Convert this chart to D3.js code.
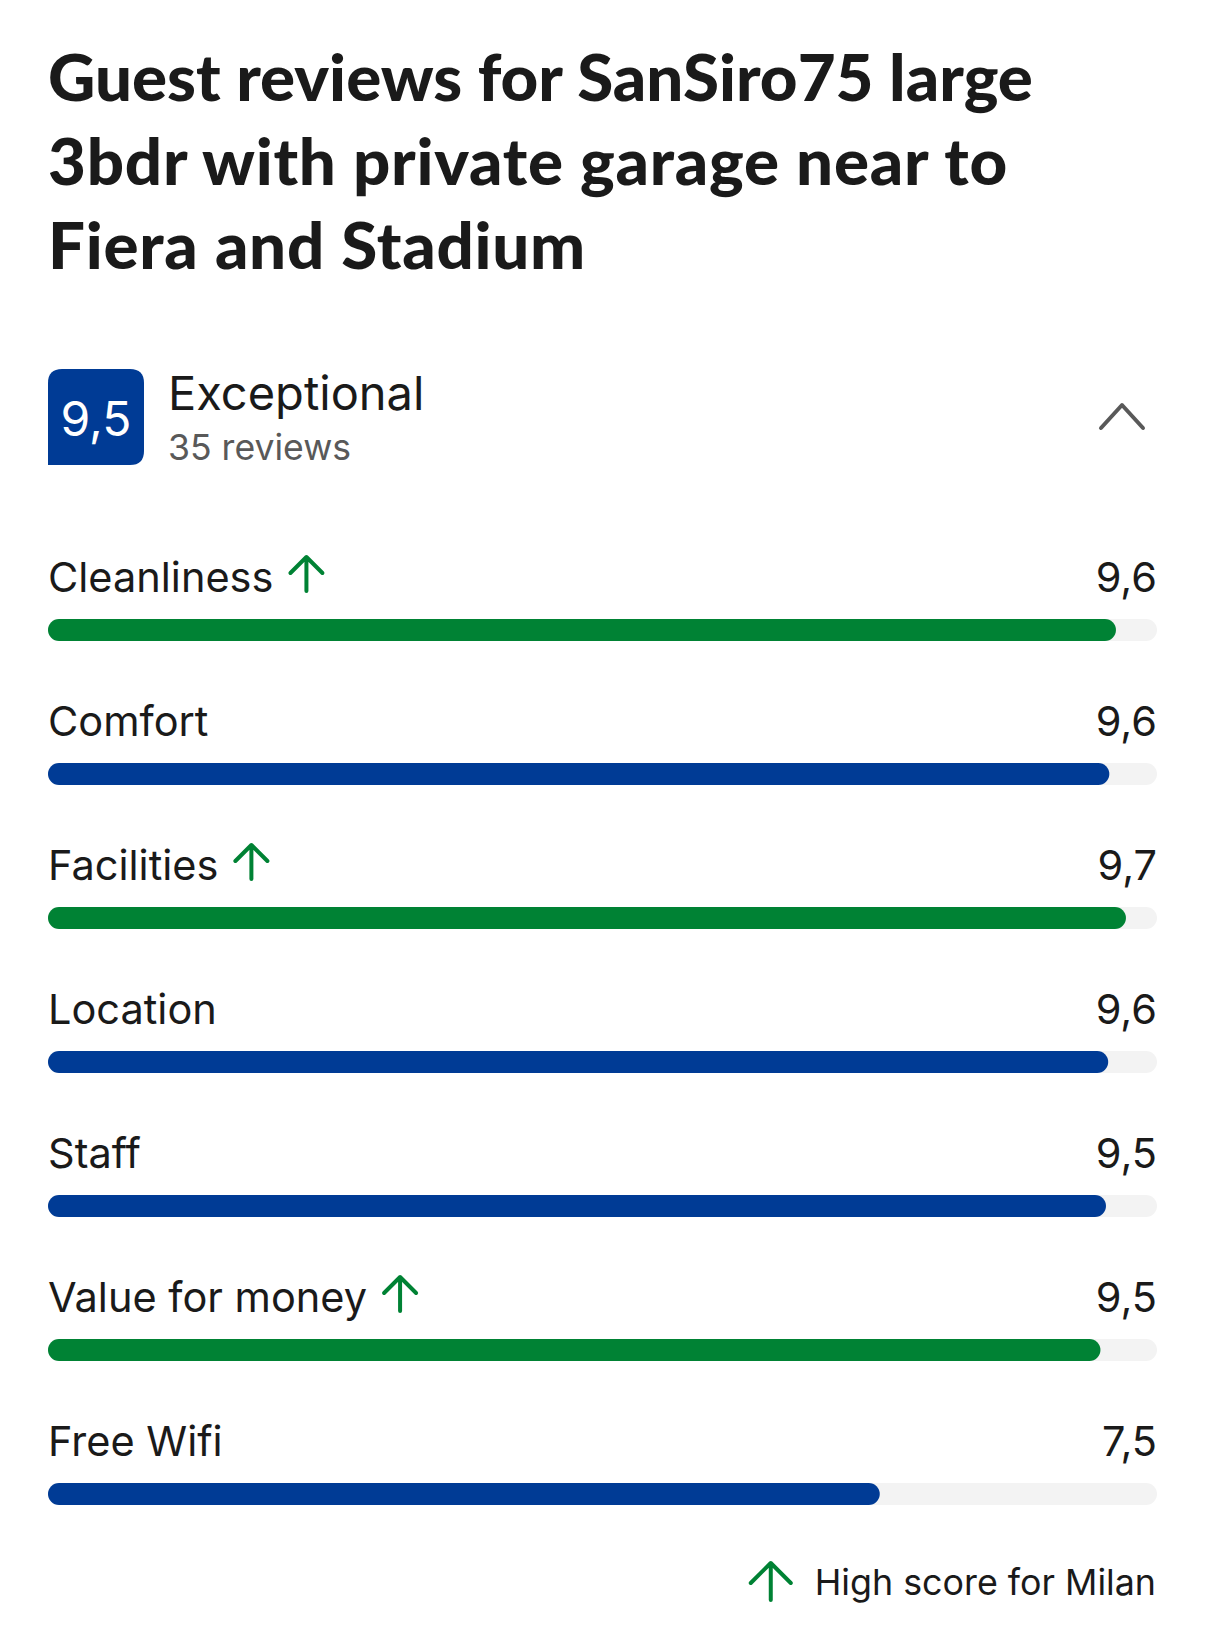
<!DOCTYPE html>
<html>
<head>
<meta charset="utf-8">
<script src="https://cdn.jsdelivr.net/npm/d3@7"></script>
<style>
  body { margin: 0; background: #fff; }
  text { font-family: Inter, "Noto Sans", sans-serif; }
</style>
</head>
<body>
<div id="chart"></div>
<script>
// data
const titleLines = [
    "Guest reviews for SanSiro75 large",
    "3bdr with private garage near to",
    "Fiera and Stadium",
]
const overallScore = 9.5
const overallLabel = "Exceptional"
const reviewCount = 35

const categories = ["Cleanliness", "Comfort", "Facilities", "Location", "Staff", "Value for money", "Free Wifi"]
const scores = [9.63, 9.57, 9.72, 9.56, 9.54, 9.49, 7.5]
const highScore = [true, false, true, false, false, true, false]
const legendText = "High score for Milan"

const width = 1206, height = 1627
const green = "#008234", blue = "#003b95", ink = "#1a1a1a"

var fmt = v => v.toFixed(1).replace(".", ",")

var svg = d3.select("#chart").append("svg")
    .attr("width", width)
    .attr("height", height)

// title
var title = svg.append("g")
title.selectAll("text")
    .data(titleLines)
    .enter().append("text")
    .attr("x", 48)
    .attr("y", (d, i) => 101 + i * 84)
    .style("font-family", "Lato, sans-serif")
    .style("font-weight", 900)
    .style("font-size", "60px")
    .style("letter-spacing", (d, i) => i == 0 ? "0px" : "0.75px")
    .style("fill", ink)
    .text(d => d)

// fit the first title line to the width in the picture
var w0 = title.select("text").node().getComputedTextLength()
title.selectAll("text").style("font-size", (60 * 985 / w0) + "px")

// score badge
var bx = 48, by = 369, bs = 96, r = 14
svg.append("path")
    .attr("d", `M${bx},${by + r} Q${bx},${by} ${bx + r},${by} L${bx + bs - r},${by} Q${bx + bs},${by} ${bx + bs},${by + r}
        L${bx + bs},${by + bs - r} Q${bx + bs},${by + bs} ${bx + bs - r},${by + bs} L${bx},${by + bs} Z`)
    .style("fill", blue)
svg.append("text")
    .attr("x", bx + bs / 2)
    .attr("y", 436)
    .attr("text-anchor", "middle")
    .style("font-size", "48px")
    .style("fill", "#fff")
    .text(fmt(overallScore))

svg.append("text")
    .attr("x", 168)
    .attr("y", 410)
    .style("font-size", "47px")
    .style("fill", ink)
    .text(overallLabel)
svg.append("text")
    .attr("x", 168)
    .attr("y", 460)
    .style("font-size", "35.6px")
    .style("fill", "#595959")
    .text(reviewCount + " reviews")

// collapse chevron
svg.append("path")
    .attr("d", "M1101,428 L1122,405 L1143,428")
    .style("fill", "none")
    .style("stroke", "#595959")
    .style("stroke-width", 4)
    .style("stroke-linecap", "round")
    .style("stroke-linejoin", "round")

// scales
var x = d3.scaleLinear().domain([0, 10]).range([48, 1157])
var y = d3.scaleBand().domain(categories).range([548, 548 + 7 * 144])

function upArrow(g, cx, top, h, head) {
    g.append("path")
        .attr("d", `M${cx},${top + h} L${cx},${top} M${cx - head},${top + head} L${cx},${top} L${cx + head},${top + head}`)
        .style("fill", "none")
        .style("stroke", green)
        .style("stroke-width", 4)
        .style("stroke-linecap", "round")
        .style("stroke-linejoin", "round")
}

var rows = svg.append("g")
    .selectAll(".row")
    .data(categories.map((c, i) => ({name: c, score: scores[i], high: highScore[i]})))
    .enter().append("g")
    .attr("class", "row")
    .attr("transform", d => "translate(0," + y(d.name) + ")")

var barH = 22

rows.append("rect")
    .attr("x", x(0))
    .attr("y", 71)
    .attr("width", x(10) - x(0))
    .attr("height", barH)
    .attr("rx", barH / 2)
    .style("fill", "#f3f3f3")

rows.append("rect")
    .attr("x", x(0))
    .attr("y", 71)
    .attr("width", d => x(d.score) - x(0))
    .attr("height", barH)
    .attr("rx", barH / 2)
    .style("fill", d => d.high ? green : blue)

rows.append("text")
    .attr("class", "label")
    .attr("x", x(0))
    .attr("y", 44)
    .style("font-size", "41.5px")
    .style("fill", ink)
    .text(d => d.name)

rows.append("text")
    .attr("x", 1157)
    .attr("y", 44)
    .attr("text-anchor", "end")
    .style("font-size", "41.5px")
    .style("fill", ink)
    .text(d => fmt(d.score))

rows.filter(d => d.high).each(function(d) {
    var g = d3.select(this)
    var lw = g.select(".label").node().getComputedTextLength()
    upArrow(g, x(0) + lw + 33, 9, 34, 16)
})

// legend
var legend = svg.append("g")
var lt = legend.append("text")
    .attr("x", 1156)
    .attr("y", 1595)
    .attr("text-anchor", "end")
    .style("font-size", "35.8px")
    .style("fill", ink)
    .text(legendText)
var ltw = lt.node().getComputedTextLength()
upArrow(legend, 1156 - ltw - 44, 1563, 37, 20)
</script>
</body>
</html>
